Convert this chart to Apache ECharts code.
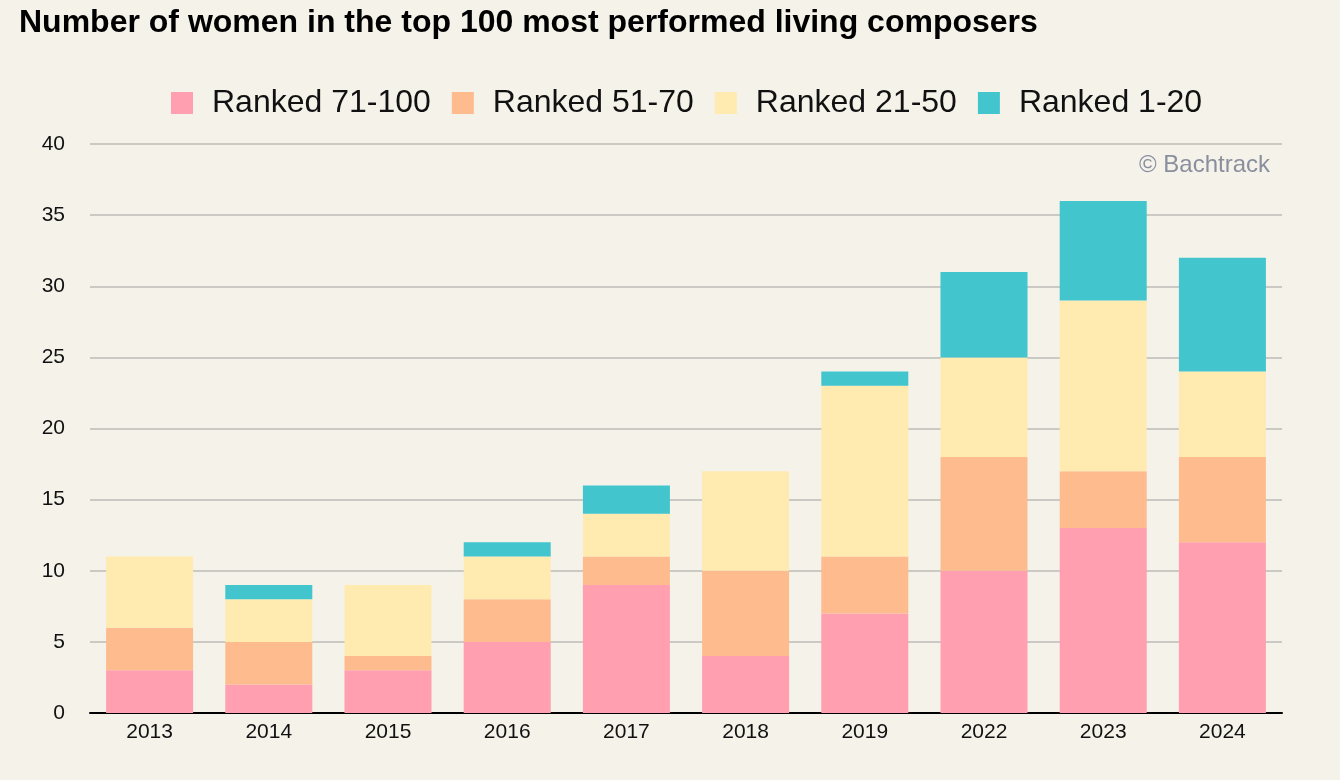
<!DOCTYPE html>
<html>
<head>
<meta charset="utf-8">
<script src="https://cdn.jsdelivr.net/npm/echarts@6/dist/echarts.min.js"></script>
<style>
html,body{margin:0;padding:0;background:#F5F2EA;}
#c{width:1340px;height:780px;}
</style>
</head>
<body>
<div id="c"></div>
<script>
const years = ['2013','2014','2015','2016','2017','2018','2019','2022','2023','2024'];
const seriesNames = ['Ranked 71-100','Ranked 51-70','Ranked 21-50','Ranked 1-20'];
const ranked71_100 = [3,2,3,5,9,4,7,10,13,12];
const ranked51_70  = [3,3,1,3,2,6,4,8,4,6];
const ranked21_50  = [5,3,5,3,3,7,12,7,12,6];
const ranked1_20   = [0,1,0,1,2,0,1,6,7,8];
const colors = ['#FF9FB0','#FEBC8E','#FFEAB0','#42C5CD'];
const values = [ranked71_100, ranked51_70, ranked21_50, ranked1_20];

const chart = echarts.init(document.getElementById('c'));
const font = 'Liberation Sans, Arial, Helvetica, sans-serif';
chart.setOption({
  backgroundColor: '#F5F2EA',
  animation: false,
  title: {
    text: 'Number of women in the top 100 most performed living composers',
    left: 14, top: 2,
    textStyle: {fontFamily: font, fontWeight: 'bold', fontSize: 32, color: '#000'}
  },
  legend: {
    data: seriesNames,
    left: 166, top: 82,
    itemWidth: 22, itemHeight: 22, itemGap: 21,
    icon: 'rect',
    textStyle: {fontFamily: font, fontSize: 32, color: '#111', padding: [0,0,0,14]},
    itemStyle: {borderWidth: 0}
  },
  grid: {left: 90, right: 58, top: 144, bottom: 67, containLabel: false},
  xAxis: {
    type: 'category',
    data: years,
    axisLine: {lineStyle: {color: '#000', width: 2}},
    axisTick: {show: false},
    axisLabel: {fontFamily: font, fontSize: 21, color: '#111', margin: 9}
  },
  yAxis: {
    type: 'value',
    min: 0, max: 40, interval: 5,
    axisLine: {show: false},
    axisTick: {show: false},
    axisLabel: {fontFamily: font, fontSize: 21, color: '#111', margin: 25},
    splitLine: {lineStyle: {color: '#BDBBB6', width: 1.5}}
  },
  graphic: [{
    type: 'text', right: 70, top: 153,
    style: {text: '© Bachtrack', fontFamily: font, fontSize: 24, fill: '#8A8F9E'}
  }],
  series: seriesNames.map((n, i) => ({
    name: n, type: 'bar', stack: 'total',
    data: values[i],
    barWidth: '73%',
    itemStyle: {color: colors[i]}
  }))
});
</script>
</body>
</html>
